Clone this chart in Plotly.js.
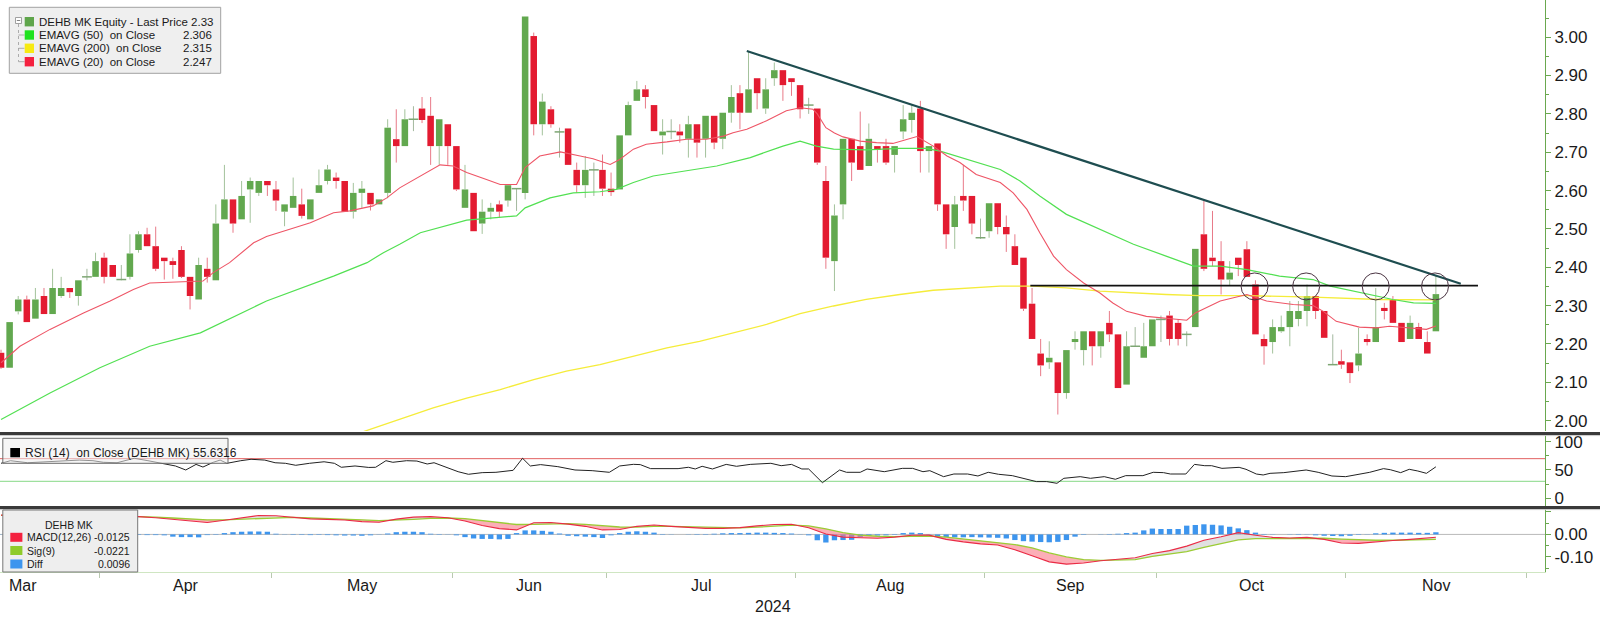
<!DOCTYPE html>
<html>
<head>
<meta charset="utf-8">
<script src="https://cdn.plot.ly/plotly-3.0.1.min.js"></script>
<style>html,body{margin:0;padding:0;background:#fff;}#chart{width:1600px;height:617px;}</style>
</head>
<body>
<div id="chart"></div>
<script>
// ---------------- DATA ----------------
// x = trading-day index (0 = first visible session, early Mar 2024)
const openP = [2.177,2.138,2.285,2.316,2.266,2.325,2.278,2.325,2.346,2.325,
2.375,2.375,2.425,2.406,2.368,2.375,2.445,2.486,2.455,2.425,
2.416,2.445,2.375,2.316,2.396,2.366,2.525,2.577,2.525,2.603,
2.594,2.625,2.603,2.545,2.555,2.564,2.525,2.594,2.625,2.634,
2.625,2.545,2.594,2.594,2.564,2.594,2.734,2.716,2.786,2.814,
2.795,2.716,2.773,2.716,2.555,2.594,2.514,2.545,2.564,2.574,
2.605,2.594,3.003,2.773,2.812,2.753,2.762,2.654,2.614,2.654,
2.654,2.605,2.603,2.744,2.834,2.864,2.823,2.744,2.754,2.754,
2.735,2.773,2.735,2.795,2.735,2.803,2.854,2.803,2.893,2.814,
2.893,2.914,2.893,2.875,2.823,2.814,2.625,2.416,2.564,2.735,
2.716,2.664,2.716,2.716,2.693,2.754,2.784,2.814,2.703,2.723,
2.564,2.505,2.586,2.586,2.477,2.494,2.567,2.505,2.455,2.425,
2.305,2.175,2.152,2.152,2.072,2.205,2.184,2.233,2.194,2.255,
2.225,2.094,2.194,2.164,2.194,2.264,2.274,2.255,2.225,2.244,
2.486,2.425,2.416,2.368,2.425,2.447,2.355,2.213,2.205,2.233,
2.244,2.265,2.286,2.325,2.286,2.146,2.155,2.152,2.144,2.213,
2.205,2.294,2.316,2.255,2.213,2.244,2.205,2.233];
const highP = [2.185,2.257,2.325,2.326,2.346,2.346,2.396,2.375,2.346,2.366,
2.396,2.438,2.438,2.406,2.406,2.486,2.494,2.503,2.506,2.425,
2.425,2.455,2.375,2.425,2.425,2.564,2.667,2.577,2.625,2.634,
2.625,2.625,2.625,2.564,2.634,2.605,2.577,2.655,2.667,2.647,
2.625,2.620,2.625,2.594,2.577,2.786,2.812,2.812,2.820,2.844,
2.844,2.786,2.773,2.716,2.667,2.594,2.577,2.568,2.574,2.614,
2.605,3.054,3.012,2.853,2.820,2.764,2.762,2.673,2.690,2.673,
2.694,2.647,2.744,2.832,2.886,2.875,2.823,2.786,2.786,2.773,
2.795,2.773,2.795,2.795,2.803,2.875,2.875,2.964,2.893,2.893,
2.934,2.914,2.893,2.875,2.842,2.814,2.664,2.564,2.735,2.735,
2.806,2.775,2.716,2.735,2.716,2.823,2.823,2.834,2.716,2.723,
2.564,2.586,2.667,2.586,2.527,2.567,2.567,2.535,2.486,2.425,
2.346,2.213,2.207,2.152,2.184,2.233,2.233,2.233,2.233,2.286,
2.225,2.233,2.244,2.255,2.264,2.274,2.286,2.264,2.233,2.448,
2.573,2.547,2.468,2.416,2.425,2.468,2.366,2.225,2.264,2.274,
2.312,2.312,2.355,2.325,2.286,2.225,2.185,2.152,2.242,2.225,
2.346,2.307,2.325,2.255,2.274,2.255,2.233,2.378];
const lowP = [2.135,2.138,2.277,2.257,2.266,2.278,2.278,2.320,2.320,2.300,
2.366,2.375,2.358,2.375,2.366,2.368,2.438,2.455,2.390,2.368,
2.370,2.372,2.290,2.316,2.360,2.366,2.525,2.490,2.525,2.516,
2.586,2.586,2.547,2.507,2.555,2.527,2.525,2.594,2.616,2.605,
2.545,2.527,2.555,2.548,2.564,2.580,2.673,2.716,2.755,2.776,
2.667,2.667,2.667,2.599,2.555,2.494,2.487,2.525,2.529,2.558,
2.547,2.577,2.744,2.744,2.764,2.686,2.667,2.594,2.581,2.586,
2.586,2.586,2.603,2.744,2.834,2.814,2.755,2.694,2.734,2.725,
2.686,2.686,2.686,2.708,2.708,2.777,2.760,2.803,2.812,2.800,
2.873,2.834,2.847,2.788,2.800,2.667,2.396,2.338,2.525,2.625,
2.654,2.664,2.673,2.667,2.647,2.734,2.751,2.647,2.647,2.547,
2.448,2.448,2.547,2.486,2.474,2.477,2.486,2.440,2.406,2.286,
2.213,2.116,2.135,2.016,2.057,2.185,2.144,2.144,2.164,2.205,
2.085,2.094,2.194,2.164,2.194,2.205,2.196,2.196,2.194,2.244,
2.390,2.403,2.329,2.351,2.377,2.375,2.225,2.146,2.175,2.229,
2.194,2.246,2.246,2.265,2.216,2.146,2.135,2.098,2.129,2.196,
2.205,2.264,2.255,2.205,2.213,2.213,2.175,2.233];
const closeP = [2.138,2.257,2.316,2.257,2.316,2.278,2.346,2.346,2.335,2.366,
2.375,2.416,2.375,2.375,2.368,2.436,2.486,2.455,2.396,2.416,
2.406,2.375,2.325,2.406,2.375,2.514,2.577,2.514,2.586,2.625,
2.625,2.614,2.574,2.564,2.586,2.534,2.577,2.614,2.655,2.625,
2.545,2.594,2.605,2.564,2.577,2.764,2.716,2.786,2.786,2.784,
2.716,2.786,2.716,2.603,2.603,2.494,2.545,2.555,2.545,2.614,
2.605,3.054,2.773,2.832,2.773,2.753,2.667,2.614,2.654,2.654,
2.605,2.596,2.744,2.823,2.864,2.844,2.755,2.754,2.754,2.744,
2.773,2.725,2.795,2.725,2.803,2.844,2.803,2.864,2.854,2.864,
2.914,2.875,2.883,2.812,2.823,2.673,2.425,2.535,2.735,2.673,
2.654,2.735,2.706,2.673,2.716,2.786,2.803,2.703,2.716,2.564,
2.486,2.564,2.574,2.514,2.477,2.567,2.505,2.486,2.406,2.292,
2.213,2.144,2.164,2.072,2.184,2.213,2.233,2.194,2.233,2.225,
2.085,2.194,2.194,2.194,2.264,2.264,2.213,2.213,2.225,2.448,
2.396,2.416,2.368,2.386,2.406,2.375,2.225,2.194,2.244,2.244,
2.286,2.286,2.325,2.286,2.216,2.146,2.146,2.124,2.175,2.205,
2.244,2.286,2.255,2.205,2.255,2.213,2.175,2.330];

const ema20X = [0,2.2,5.7,9.6,12.7,15.4,17.3,20.8,23.5,24.7,26.6,29.4,30.9,33.6,36,38.7,40.6,43.3,44.9,46.4,48.8,51.1,52.6,54.2,56.5,58.1,60,61,62.7,65.1,67.4,68.9,70.9,72,73.6,75.1,77.5,79.8,82.1,84.1,85.2,86.8,89.1,91.4,93,94.5,95,96,97,98,100,101.9,103.8,105.4,106.6,108.5,110.1,111.6,113.5,116.3,117.8,119.4,120.9,122.5,124,126,127.9,129.4,131,133.3,135.6,138,139,141.9,145,147.3,150.4,152.7,153.9,155.4,158.1,160.1,161.6,164.4,165.9,167];
const ema20Y = [2.151,2.194,2.238,2.281,2.312,2.342,2.359,2.361,2.364,2.386,2.412,2.464,2.480,2.499,2.516,2.542,2.547,2.560,2.581,2.607,2.638,2.667,2.664,2.647,2.629,2.616,2.616,2.660,2.690,2.701,2.690,2.683,2.668,2.681,2.708,2.721,2.727,2.734,2.734,2.742,2.751,2.760,2.782,2.808,2.816,2.812,2.800,2.764,2.750,2.740,2.729,2.725,2.723,2.734,2.741,2.716,2.690,2.673,2.642,2.621,2.594,2.551,2.490,2.429,2.394,2.359,2.333,2.307,2.285,2.272,2.268,2.262,2.281,2.312,2.329,2.312,2.303,2.300,2.285,2.259,2.244,2.242,2.246,2.242,2.238,2.247];

const ema50X = [0,5.7,11.5,17.3,23.2,30.9,38.7,42.6,44.5,46.4,48.8,50.3,54.2,57.3,60,61,63.9,66.6,69.7,71.6,73.6,75.9,79.4,83.3,87.2,91,93,94.9,96.9,100.7,104.6,107.7,109.3,112.4,116.3,118.6,120.9,124,127.9,131.8,135.6,138.8,141.9,145,148.8,152.7,154.7,158.5,162,164.4,167];
const ema50Y = [2.003,2.072,2.138,2.194,2.229,2.312,2.377,2.412,2.438,2.460,2.490,2.499,2.523,2.529,2.534,2.555,2.581,2.594,2.597,2.603,2.621,2.638,2.651,2.664,2.686,2.716,2.729,2.716,2.708,2.706,2.710,2.710,2.703,2.681,2.655,2.625,2.586,2.538,2.499,2.460,2.429,2.403,2.403,2.394,2.377,2.368,2.351,2.333,2.316,2.307,2.306];

const ema200X = [42,46.4,50.3,54.2,58.1,62,65.8,69.7,73.6,77.5,81.3,85.2,89.1,93,96.9,100.7,104.6,108.5,112.4,116.3,120.1,124,127.9,131.8,135.6,139.5,145,152.7,160.5,167];
const ema200Y = [1.970,2.003,2.033,2.059,2.081,2.107,2.129,2.146,2.168,2.190,2.207,2.229,2.251,2.279,2.299,2.316,2.329,2.340,2.346,2.351,2.351,2.346,2.338,2.333,2.329,2.326,2.326,2.322,2.316,2.315];

const rsiX = [0,1.1,3.1,5.1,7.1,9.1,10.7,11.9,13.5,15.5,17.1,18.7,20.3,21.5,22.7,23.5,24.7,25.5,26.3,27.9,29.1,30.7,31.9,33.1,34.3,35.9,37.6,38.8,39.6,41.2,42.8,43.6,44.8,45.6,47.2,48.4,49.6,50.4,52,53.2,54.4,56,57.6,58.8,59.6,60.7,61.6,62.8,64.8,66.8,68.8,70.8,72,73.6,74.4,75.6,78.8,80,80.8,81.6,82.8,84.4,85.6,87.2,89.6,90.8,92,93.2,94,95.6,97.6,98.4,100,100.8,102.8,104.9,106.1,107.3,108.1,109.7,110.9,112.5,113.7,114.9,116.1,117.7,119.3,120.5,121.7,122.9,123.7,124.4,125.6,126.8,128.4,129.7,130.9,132.9,134.1,135.3,136.1,137.9,138.9,140.1,140.9,142.1,144.1,144.9,146.1,146.9,147.7,149.3,150.5,151.9,153.3,154.9,156.5,158.1,159.3,160.9,161.7,162.9,163.9,164.9,165.9,167];
const rsiY = [61.8,66.4,62.8,64.5,66.4,67.5,66.4,63.6,62.8,70.7,66.4,61.8,57.1,50,59.9,55.2,63.6,67.5,61.8,66.4,68.9,67.5,62.8,61.8,58.3,61.8,64.5,61.8,54.8,57.1,54.5,54.8,66.4,63.6,66.4,65.8,60.6,62.8,53,47,42.4,45.3,45.9,48.8,49.4,70.7,57.1,59.5,55.9,50,48.8,45.9,57.1,60,59.5,52.4,52.4,54.8,51.8,56.5,51.8,59.9,56.5,59.9,61.8,57.6,59.9,51.8,51.8,27.6,50,45.9,45.9,51.8,47,52.9,52.9,47,48.8,38.2,42.9,42.9,39.4,45.9,42.4,40,33.6,29.5,29.5,26.5,35.3,36.5,38.2,35.3,38.2,33.6,40,40,45.9,45.3,42.9,42.9,59.9,57.6,57.6,52.9,54.7,51.2,42.9,41.2,44.1,45.3,47,50,45.9,39.4,38.2,42.9,45.9,52.4,50.5,45.3,51.2,48.2,44.1,55.6];
const rsiLevels = [70, 30];

const macdX = [0,2,4,6,8,10,12,14,16,18,20,22,24,26,28,30,32,34,36,38,40,42,44,46,48,50,52,54,56,58,60,62,64,66,68,70,72,74,76,78,80,82,84,86,88,90,92,94,96,98,100,102,104,106,108,110,112,114,116,118,120,122,124,126,128,130,132,134,136,138,140,142,144,146,148,150,152,154,156,158,160,162,164,166,167];
const macdLine = [0.086,0.085,0.084,0.084,0.083,0.083,0.082,0.081,0.079,0.074,
0.068,0.060,0.053,0.063,0.073,0.084,0.083,0.076,0.069,0.067,
0.064,0.057,0.054,0.068,0.077,0.079,0.074,0.060,0.040,0.026,
0.020,0.052,0.053,0.046,0.036,0.020,0.022,0.036,0.042,0.036,
0.031,0.027,0.027,0.030,0.038,0.044,0.045,0.030,0.002,-0.012,
-0.015,-0.017,-0.012,-0.004,-0.003,-0.022,-0.033,-0.042,-0.047,-0.068,
-0.095,-0.122,-0.132,-0.127,-0.117,-0.112,-0.104,-0.085,-0.072,-0.052,
-0.026,-0.010,0.008,-0.004,-0.013,-0.016,-0.013,-0.022,-0.038,-0.040,
-0.032,-0.027,-0.022,-0.017,-0.0125];
const sigLine = [0.085,0.085,0.084,0.084,0.083,0.083,0.082,0.081,0.080,0.077,
0.073,0.069,0.065,0.065,0.068,0.073,0.076,0.076,0.073,0.071,
0.068,0.065,0.061,0.063,0.067,0.071,0.073,0.070,0.062,0.052,
0.044,0.045,0.047,0.048,0.045,0.038,0.033,0.032,0.036,0.036,
0.034,0.031,0.029,0.029,0.032,0.037,0.041,0.038,0.025,0.008,
-0.003,-0.008,-0.010,-0.008,-0.007,-0.012,-0.020,-0.028,-0.035,-0.045,
-0.060,-0.082,-0.100,-0.112,-0.115,-0.115,-0.112,-0.098,-0.088,-0.076,
-0.058,-0.040,-0.024,-0.019,-0.018,-0.016,-0.015,-0.017,-0.021,-0.025,
-0.026,-0.026,-0.025,-0.023,-0.0221];
const diffHist = [0.001,0.001,0.001,0.001,0.001,0.001,0.001,0.001,0.001,0.000,0.000,0.000,0.000,0.000,0.000,-0.001,-0.002,-0.003,-0.003,-0.004,
-0.010,-0.012,-0.012,-0.013,
-0.003,0.002,
0.006,0.010,0.012,0.013,0.013,0.012,
0.003,0.001,-0.002,-0.002,-0.003,-0.002,-0.003,
-0.004,-0.005,-0.005,-0.006,-0.004,
0.001,0.004,
0.010,0.012,0.012,0.010,
0.003,0.002,0.001,
-0.004,-0.012,-0.018,-0.020,-0.020,-0.022,-0.020,
0.006,0.018,0.018,0.016,0.012,
0.004,
-0.006,-0.008,-0.010,-0.012,-0.016,
-0.004,
0.006,0.012,0.014,0.012,0.008,
0.002,0.001,0.000,0.001,0.002,0.002,0.003,
0.005,0.006,0.006,0.007,0.008,0.008,0.007,0.006,0.004,
0.001,-0.004,
-0.026,-0.036,-0.026,-0.025,-0.024,-0.012,
-0.006,-0.005,-0.004,-0.002,
0.006,0.008,0.006,0.001,
-0.010,-0.012,-0.013,-0.013,-0.012,-0.013,-0.014,-0.015,
-0.018,-0.025,-0.030,-0.032,-0.034,-0.035,-0.033,-0.025,
-0.010,
-0.002,0.000,0.001,0.002,0.003,
0.006,0.008,
0.018,0.026,0.024,0.024,0.024,
0.039,0.042,0.045,0.043,0.040,0.034,0.027,0.019,0.008,
0.002,0.001,0.000,0.001,0.002,0.001,
-0.004,-0.006,-0.007,-0.008,-0.006,-0.002,0.001,
0.005,0.007,0.008,0.008,0.008,0.007,0.007,
0.0096];

// Drawn annotations (trend line, support line, touch points)
const trendIdx = [86.8, 169.9];
const trendPrice = [2.964, 2.357];
const supportIdx = [119.8, 171.9];
const supportPrice = [2.352, 2.352];
const touchIdx = [145.9, 151.9, 160.0, 166.9];
const touchPrice = 2.350;

// Axis labels
const monthBounds = [-6.5, 11.5, 31.5, 52.5, 70.5, 92.5, 114.5, 134.5, 156.5, 177.5];
const monthNames = ['Mar','Apr','May','Jun','Jul','Aug','Sep','Oct','Nov'];
const priceTicks = [2.0,2.1,2.2,2.3,2.4,2.5,2.6,2.7,2.8,2.9,3.0];
const rsiTicks = [0, 50, 100];
const macdTicks = [-0.1, 0, 0.1];
const macdTickText = ['-0.10', '0.00', ''];

const legendPrice = [
  {label:'DEHB MK Equity - Last Price 2.33', value:'', color:'#5fa54b'},
  {label:'EMAVG (50)  on Close', value:'2.306', color:'#1fe21f'},
  {label:'EMAVG (200)  on Close', value:'2.315', color:'#f7ea12'},
  {label:'EMAVG (20)  on Close', value:'2.247', color:'#f4213f'}
];
const legendRsi = 'RSI (14)  on Close (DEHB MK) 55.6316';
const legendMacd = [
  {label:'MACD(12,26)', value:'-0.0125', color:'#f4213f'},
  {label:'Sig(9)', value:'-0.0221', color:'#8fcb2a'},
  {label:'Diff', value:'0.0096', color:'#3d95ee'}
];

// ---------------- BUILD ----------------
const W = 1600, H = 617, MR = 55, MB = 45;
const PW = W - MR, PH = H - MB;
const px = v => v / PW;
const py = v => (PH - v) / PH;
const FONT = 'Liberation Sans, Arial, sans-serif';

const UP = '#62a84f', DOWN = '#e31b31';
const up = [], down = [], flat = [];
openP.forEach((o, i) => { if (closeP[i] > o) up.push(i); else if (closeP[i] < o) down.push(i); else flat.push(i); });

function wicks(list, color) {
  const xs = [], ys = [];
  list.forEach(i => {
    const top = Math.max(openP[i], closeP[i]), bot = Math.min(openP[i], closeP[i]);
    if (highP[i] > top) { xs.push(i, i, null); ys.push(top, highP[i], null); }
    if (lowP[i] < bot) { xs.push(i, i, null); ys.push(lowP[i], bot, null); }
  });
  return {type:'scatter', mode:'lines', x:xs, y:ys, line:{color:color, width:1}, hoverinfo:'skip', xaxis:'x', yaxis:'y', connectgaps:false};
}
function bodies(list, color) {
  return {type:'bar', x:list, base:list.map(i => Math.min(openP[i], closeP[i])),
    y:list.map(i => Math.abs(closeP[i] - openP[i])), width:0.76,
    marker:{color:color, line:{width:0}}, xaxis:'x', yaxis:'y', hoverinfo:'skip'};
}

const data = [];
data.push(wicks(up, '#a3c29b'));
data.push(wicks(down, '#e87a88'));
data.push(wicks(flat, '#a3b89e'));
data.push(bodies(up, UP));
data.push(bodies(down, DOWN));
data.push({type:'scatter', mode:'markers', x:flat, y:flat.map(i => closeP[i]),
  marker:{symbol:'line-ew', size:7, line:{color:'#7da673', width:1.5}}, xaxis:'x', yaxis:'y', hoverinfo:'skip'});
data.push({type:'scatter', mode:'lines', x:ema200X, y:ema200Y, line:{color:'#f5ec3a', width:1.3}, xaxis:'x', yaxis:'y'});
data.push({type:'scatter', mode:'lines', x:ema50X, y:ema50Y, line:{color:'#52e052', width:1.2}, xaxis:'x', yaxis:'y'});
data.push({type:'scatter', mode:'lines', x:ema20X, y:ema20Y, line:{color:'#ee5566', width:1.1}, xaxis:'x', yaxis:'y'});
data.push({type:'scatter', mode:'lines', x:supportIdx, y:supportPrice, line:{color:'#111', width:1.6}, xaxis:'x', yaxis:'y'});
data.push({type:'scatter', mode:'lines', x:trendIdx, y:trendPrice, line:{color:'#1e4d50', width:2.2}, xaxis:'x', yaxis:'y'});

// RSI
data.push({type:'scatter', mode:'lines', x:rsiX, y:rsiY, line:{color:'#222', width:1}, xaxis:'x', yaxis:'y2'});

// MACD fill segments
function fills() {
  const out = [];
  let segX = [macdX[0]], segM = [macdLine[0]], segS = [sigLine[0]];
  let above = macdLine[0] >= sigLine[0];
  const flush = () => {
    out.push({type:'scatter', mode:'lines', x:segX.concat(segX.slice().reverse()),
      y:segM.concat(segS.slice().reverse()), fill:'toself', line:{width:0},
      fillcolor: above ? 'rgba(200,200,200,0.55)' : 'rgba(250,120,135,0.6)',
      xaxis:'x', yaxis:'y3', hoverinfo:'skip'});
  };
  for (let k = 1; k < macdX.length; k++) {
    const a = macdLine[k] >= sigLine[k];
    if (a !== above) {
      const d0 = macdLine[k-1] - sigLine[k-1], d1 = macdLine[k] - sigLine[k];
      const t = d0 / (d0 - d1);
      const xc = macdX[k-1] + t * (macdX[k] - macdX[k-1]);
      const yc = macdLine[k-1] + t * (macdLine[k] - macdLine[k-1]);
      segX.push(xc); segM.push(yc); segS.push(yc);
      flush();
      segX = [xc]; segM = [yc]; segS = [yc];
      above = a;
    }
    segX.push(macdX[k]); segM.push(macdLine[k]); segS.push(sigLine[k]);
  }
  flush();
  return out;
}
fills().forEach(t => data.push(t));
data.push({type:'bar', x:diffHist.map((_, i) => i), y:diffHist, width:0.62,
  marker:{color:'#3d95ee', line:{width:0}}, xaxis:'x', yaxis:'y3', hoverinfo:'skip'});
data.push({type:'scatter', mode:'lines', x:macdX, y:sigLine, line:{color:'#9bcc35', width:1.3}, xaxis:'x', yaxis:'y3'});
data.push({type:'scatter', mode:'lines', x:macdX, y:macdLine, line:{color:'#ea2b45', width:1.1}, xaxis:'x', yaxis:'y3'});

// ---------------- LAYOUT ----------------
const shapes = [];
const annotations = [];
function rectPx(x0, y0, x1, y1, fill, line, lw) {
  shapes.push({type:'rect', xref:'paper', yref:'paper', x0:px(x0), x1:px(x1), y0:py(y1), y1:py(y0),
    fillcolor:fill, line:{color:line || fill, width:lw === undefined ? 0 : lw}, layer:'above'});
}
function linePx(x0, y0, x1, y1, color, w, dash) {
  shapes.push({type:'line', xref:'paper', yref:'paper', x0:px(x0), x1:px(x1), y0:py(y0), y1:py(y1),
    line:{color:color, width:w, dash:dash || 'solid'}, layer:'above'});
}
function textPx(x, y, text, anchor, size, color) {
  annotations.push({xref:'paper', yref:'paper', x:px(x), y:py(y), text:text, showarrow:false,
    xanchor:anchor, yanchor:'middle', font:{family:FONT, size:size, color:color || '#1a1a1a'}});
}

// RSI reference lines and MACD zero line
shapes.push({type:'line', xref:'paper', yref:'y2', x0:0, x1:1, y0:rsiLevels[0], y1:rsiLevels[0], line:{color:'#e26060', width:1}, layer:'below'});
shapes.push({type:'line', xref:'paper', yref:'y2', x0:0, x1:1, y0:rsiLevels[1], y1:rsiLevels[1], line:{color:'#9ee09e', width:1.2}, layer:'below'});
shapes.push({type:'line', xref:'paper', yref:'y3', x0:0, x1:1, y0:0, y1:0, line:{color:'#b9b9b9', width:1}, layer:'below'});

// touch circles
touchIdx.forEach(ix => shapes.push({type:'circle', xref:'x', yref:'y', xsizemode:'pixel', ysizemode:'pixel',
  xanchor:ix, yanchor:touchPrice, x0:-13.5, x1:13.5, y0:-13.5, y1:13.5, line:{color:'#4a3442', width:1}, layer:'above'}));

// panel separators
rectPx(0, 432, 1600, 435, '#3a3a3a');
linePx(0, 435.6, 1600, 435.6, '#c8c8c8', 1);
rectPx(0, 506, 1600, 509, '#3a3a3a');
linePx(0, 509.6, 1600, 509.6, '#c8c8c8', 1);

// price legend
rectPx(9.3, 7.3, 220.7, 73.3, '#efefef', '#a2a2a2', 1);
rectPx(15.5, 17.5, 21.5, 23.5, '#ffffff', '#8a8a8a', 0.8);
linePx(16.8, 20.5, 20.2, 20.5, '#666', 0.8);
linePx(18.5, 24, 18.5, 61.7, '#9a9a9a', 0.8, 'dot');
const rowsY = [21.7, 35, 48.3, 61.7];
legendPrice.forEach((r, k) => {
  if (k > 0) linePx(18.5, rowsY[k], 24.5, rowsY[k], '#9a9a9a', 0.8);
  rectPx(24.7, rowsY[k] - 4.7, 34, rowsY[k] + 4.7, r.color);
  textPx(37, rowsY[k], r.label, 'left', 11.5);
  if (r.value) textPx(214, rowsY[k], r.value, 'right', 11.5);
});

// RSI legend
rectPx(2.8, 438.3, 228, 463.3, 'rgba(238,238,238,0.55)', '#6a6a6a', 1);
rectPx(10.3, 448, 20, 457.3, '#000000');
textPx(23, 452.7, legendRsi, 'left', 12);

// MACD legend
rectPx(2.8, 510, 137.7, 572, '#eeeeee', '#777777', 1);
textPx(69, 524.5, 'DEHB MK', 'center', 10.5);
const mRows = [537.3, 550.5, 564];
legendMacd.forEach((r, k) => {
  rectPx(10.3, mRows[k] - 4.5, 22.4, mRows[k] + 4.5, r.color);
  textPx(24.5, mRows[k], r.label, 'left', 10.5);
  textPx(131.5, mRows[k], r.value, 'right', 10.5);
});

// month labels and year
for (let m = 0; m < monthNames.length; m++) {
  annotations.push({xref:'x', yref:'paper', x:(monthBounds[m] + monthBounds[m+1]) / 2, y:py(585),
    text:monthNames[m], showarrow:false, xanchor:'center', yanchor:'middle', font:{family:FONT, size:16, color:'#1a1a1a'}});
}
textPx(773, 606, '2024', 'center', 16);

const yBase = {side:'right', anchor:'x', showgrid:false, zeroline:false, showline:true,
  linecolor:'#6aa84f', linewidth:1, ticks:'outside', ticklen:5, tickcolor:'#6aa84f',
  tickfont:{family:FONT, size:17, color:'#1a1a1a'}, fixedrange:true};

const layout = {
  width:W, height:H, margin:{l:0, r:MR, t:0, b:MB, pad:0},
  paper_bgcolor:'#ffffff', plot_bgcolor:'#ffffff', showlegend:false, barmode:'overlay',
  xaxis:{range:[-0.12, 179.7], anchor:'y3', showgrid:false, zeroline:false, showline:true,
    linecolor:'#cfe6c2', linewidth:1, tickmode:'array', tickvals:monthBounds, ticks:'outside',
    ticklen:5, tickcolor:'#b9c9b0', showticklabels:false, fixedrange:true},
  yaxis:Object.assign({}, yBase, {domain:[py(431), 1], range:[1.973, 3.097], tickmode:'array',
    tickvals:priceTicks, ticktext:priceTicks.map(v => v.toFixed(2)),
    minor:{dtick:0.05, tick0:0, ticklen:3, tickcolor:'#6aa84f', ticks:'outside'}}),
  yaxis2:Object.assign({}, yBase, {domain:[py(506), py(435)], range:[-13.6, 111.8], tickmode:'array',
    tickvals:rsiTicks, ticktext:rsiTicks.map(String),
    minor:{dtick:25, tick0:0, ticklen:3, tickcolor:'#6aa84f', ticks:'outside'}}),
  yaxis3:Object.assign({}, yBase, {domain:[0, py(509)], range:[-0.167, 0.113], tickmode:'array',
    tickvals:macdTicks, ticktext:macdTickText,
    minor:{dtick:0.05, tick0:0, ticklen:3, tickcolor:'#6aa84f', ticks:'outside'}}),
  shapes:shapes, annotations:annotations
};

Plotly.newPlot('chart', data, layout, {staticPlot:true, displayModeBar:false});
</script>
</body>
</html>
